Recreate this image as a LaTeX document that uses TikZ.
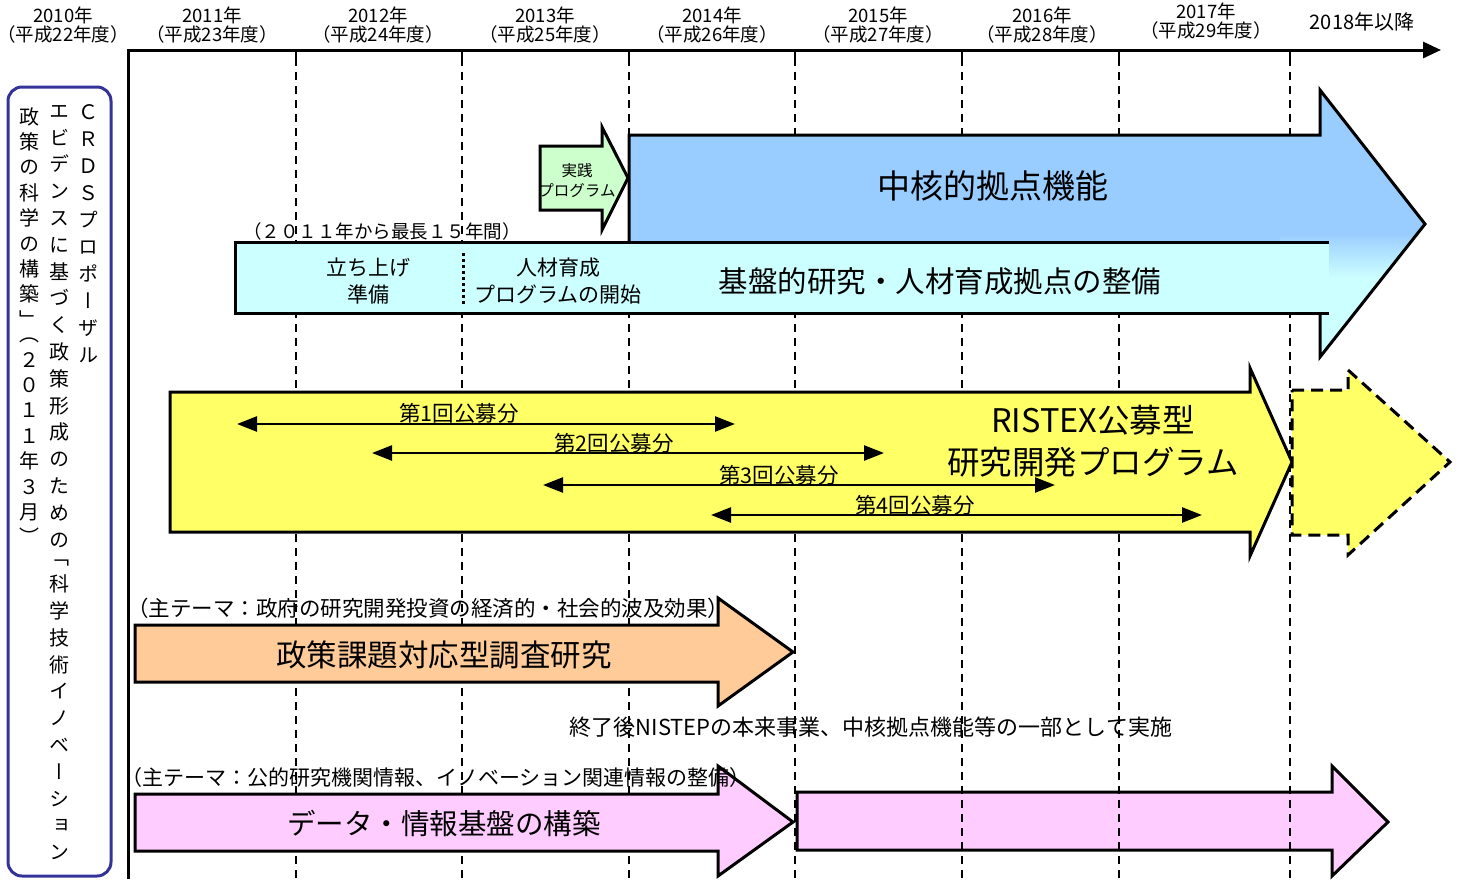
\documentclass[tikz,border=0pt]{standalone}
\usepackage{fontspec}
\setmainfont{Noto Sans CJK JP}
\newfontfamily\vjp[RawFeature=+vert]{Noto Sans CJK JP}
\usetikzlibrary{arrows.meta}
\definecolor{blueA}{HTML}{99CCFF}
\definecolor{cyanA}{HTML}{CCFFFF}
\definecolor{greenA}{HTML}{CCFFCC}
\definecolor{yellowA}{HTML}{FFFF66}
\definecolor{orangeA}{HTML}{FFCC99}
\definecolor{pinkA}{HTML}{FFCCFF}
\definecolor{frameblue}{HTML}{333399}
\newcommand\jpfs[2]{\fontsize{#1}{#2}\selectfont}
\begin{document}
\begin{tikzpicture}[x=1pt,y=-1pt,
  outl/.style={draw=black,line width=3pt,line join=miter},
  gridl/.style={line width=1.4pt,dash pattern=on 8pt off 6pt},
  dbl/.style={line width=2.5pt,{Triangle[length=20pt,width=15pt]}-{Triangle[length=20pt,width=15pt]}},
  yr/.style={align=center,font=\jpfs{18.5}{19.5},inner sep=0pt},
  lbl/.style={inner sep=0pt},
  vcol/.style={align=center,inner sep=0pt,anchor=north}]
\useasboundingbox (0,0) rectangle (1461,879);
\fill[white] (0,0) rectangle (1461,879);

% year labels
\node[yr] (y2010) at (63,25) {2010年\\（平成22年度）};
\node[yr] (y2011) at (212,25) {2011年\\（平成23年度）};
\node[yr] (y2012) at (378,25) {2012年\\（平成24年度）};
\node[yr] (y2013) at (545,25) {2013年\\（平成25年度）};
\node[yr] (y2014) at (712,25) {2014年\\（平成26年度）};
\node[yr] (y2015) at (878,25) {2015年\\（平成27年度）};
\node[yr] (y2016) at (1042,25) {2016年\\（平成28年度）};
\node[yr] (y2017) at (1206,21) {2017年\\（平成29年度）};
\node[yr,font=\jpfs{20}{22}] (y2018) at (1362,22) {2018年以降};

% labels above bars
\node[lbl,anchor=west,font=\jpfs{18.5}{20}] (period) at (243,231) {（２０１１年から最長１５年間）};
\node[lbl,font=\jpfs{22}{24}] (after) at (871,727) {終了後NISTEPの本来事業、中核拠点機能等の一部として実施};

% second pink arrow (under grid)
\draw[outl,fill=pinkA] (797,792) -- (1332,792) -- (1332,766) -- (1388,822) -- (1332,876) -- (1332,850) -- (797,850) -- cycle;

% grid
\foreach \x in {296,462,629,795,962,1119,1290} {
  \draw[gridl] (\x,58) -- (\x,879);
  \draw[line width=2pt] (\x,50) -- (\x,60);
}

% axes
\coordinate (origin) at (128,50);
\coordinate (xend) at (1441,50);
\coordinate (yend) at (128,879);
\draw[line width=3pt,line join=miter,-{Triangle[length=18pt,width=16pt]}] (yend) -- (origin) -- (xend);

% blue arrow
\path[fill=blueA] (629,135) -- (1320,135) -- (1320,90) -- (1425,224) -- (1320,357) -- (1320,313) -- (629,313) -- cycle;
\begin{scope}
  \clip (629,135) -- (1320,135) -- (1320,90) -- (1425,224) -- (1320,357) -- (1320,313) -- (629,313) -- cycle;
  \shade[top color=blueA,bottom color=cyanA] (1280,232) rectangle (1440,278);
  \fill[cyanA] (1280,277) rectangle (1440,360);
\end{scope}
\draw[outl] (629,135) -- (1320,135) -- (1320,90) -- (1425,224) -- (1320,357) -- (1320,313) -- (629,313) -- cycle;

% cyan bar
\fill[cyanA] (235,242) rectangle (1329,313);
\draw[outl] (1329,242) -- (235,242) -- (235,313) -- (1329,313);
\draw[line width=3pt,dash pattern=on 3pt off 3pt] (463,253) -- (463,305);

% green arrow
\draw[outl,fill=greenA] (540,146) -- (602,146) -- (602,127) -- (628,178) -- (602,230) -- (602,210) -- (540,210) -- cycle;

% yellow arrows
\draw[outl,fill=yellowA] (170,392) -- (1250,392) -- (1250,368) -- (1292,462) -- (1250,556) -- (1250,532) -- (170,532) -- cycle;
\draw[outl,fill=yellowA,dash pattern=on 12pt off 7pt] (1292,390) -- (1348,390) -- (1348,370) -- (1450,462) -- (1348,555) -- (1348,535) -- (1292,535) -- cycle;

% orange arrow
\draw[outl,fill=orangeA] (135,625) -- (718,625) -- (718,598) -- (793,652) -- (718,706) -- (718,682) -- (135,682) -- cycle;

% pink arrow 1
\draw[outl,fill=pinkA] (135,794) -- (718,794) -- (718,766) -- (793,822) -- (718,876) -- (718,851) -- (135,851) -- cycle;

% theme labels (over the arrow heads)
\node[lbl,anchor=west,font=\jpfs{21.5}{23}] (theme1) at (127,608) {（主テーマ：政府の研究開発投資の経済的・社会的波及効果）};
\node[lbl,anchor=west,font=\jpfs{21}{23}] (theme2) at (121,778) {（主テーマ：公的研究機関情報、イノベーション関連情報の整備）};

% texts in arrows
\node[lbl,font=\jpfs{33}{36}] (core) at (993,186) {中核的拠点機能};
\node[lbl,align=center,font=\jpfs{15.5}{20}] (jissen) at (577,180) {実践\\プログラム};
\node[lbl,align=center,font=\jpfs{21}{27}] (prep) at (368,281) {立ち上げ\\準備};
\node[lbl,align=center,font=\jpfs{21}{27}] (hr) at (558,281) {人材育成\\プログラムの開始};
\node[lbl,font=\jpfs{29.5}{32}] (base) at (940,281) {基盤的研究・人材育成拠点の整備};
\node[lbl,align=center,font=\jpfs{32.5}{42}] (ristex) at (1093,441) {RISTEX公募型\\研究開発プログラム};
\node[lbl,font=\jpfs{30.5}{33}] (policy) at (444,655) {政策課題対応型調査研究};
\node[lbl,font=\jpfs{28.5}{31}] (data) at (444,824) {データ・情報基盤の構築};

% call rounds
\coordinate (r1a) at (237,424); \coordinate (r1b) at (735,424);
\coordinate (r2a) at (372,453); \coordinate (r2b) at (884,453);
\coordinate (r3a) at (543,485); \coordinate (r3b) at (1055,485);
\coordinate (r4a) at (711,515); \coordinate (r4b) at (1202,515);
\draw[dbl] (r1a) -- (r1b);
\draw[dbl] (r2a) -- (r2b);
\draw[dbl] (r3a) -- (r3b);
\draw[dbl] (r4a) -- (r4b);
\node[lbl,font=\jpfs{21.5}{23}] (c1) at (459,413) {第1回公募分};
\node[lbl,font=\jpfs{21.5}{23}] (c2) at (614,443) {第2回公募分};
\node[lbl,font=\jpfs{21.5}{23}] (c3) at (779,475) {第3回公募分};
\node[lbl,font=\jpfs{21.5}{23}] (c4) at (915,505) {第4回公募分};

% left proposal box
\node[draw=frameblue,line width=3pt,rounded corners=14pt,fill=white,minimum width=103pt,minimum height=789pt,inner sep=0pt] (lbox) at (59.5,481.5) {};
\node[vcol,font=\vjp\jpfs{20}{27}] (colR) at (88,104) {Ｃ\\Ｒ\\Ｄ\\Ｓ\\プ\\ロ\\ポ\\ー\\ザ\\ル};
\node[vcol,font=\vjp\jpfs{20}{26.8}] (colM) at (59,105) {エ\\ビ\\デ\\ン\\ス\\に\\基\\づ\\く\\政\\策\\形\\成\\の\\た\\め\\の\\[-9pt]「\\科\\学\\技\\術\\イ\\ノ\\ベ\\ー\\シ\\ョ\\ン};
\node[vcol,font=\vjp\jpfs{20}{25.4}] (colL) at (29,107) {政\\策\\の\\科\\学\\の\\構\\築\\」\\[-11pt]（\\２\\０\\１\\１\\年\\３\\月\\）};
\end{tikzpicture}
\end{document}
